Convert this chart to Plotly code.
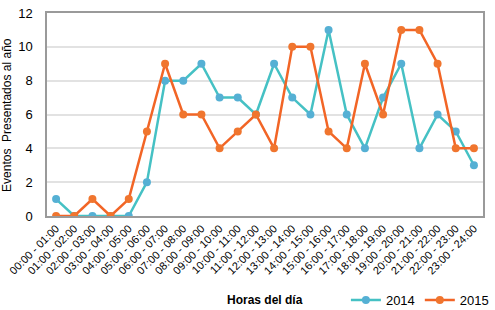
import plotly.graph_objects as go

horas = ["00:00 - 01:00", "01:00 - 02:00", "02:00 - 03:00", "03:00 - 04:00",
         "04:00 - 05:00", "05:00 - 06:00", "06:00 - 07:00", "07:00 - 08:00",
         "08:00 - 09:00", "09:00 - 10:00", "10:00 - 11:00", "11:00 - 12:00",
         "12:00 - 13:00", "13:00 - 14:00", "14:00 - 15:00", "15:00 - 16:00",
         "16:00 - 17:00", "17:00 - 18:00", "18:00 - 19:00", "19:00 - 20:00",
         "20:00 - 21:00", "21:00 - 22:00", "22:00 - 23:00", "23:00 - 24:00"]
serie_2014 = [1, 0, 0, 0, 0, 2, 8, 8, 9, 7, 7, 6, 9, 7, 6, 11, 6, 4, 7, 9, 4, 6, 5, 3]
serie_2015 = [0, 0, 1, 0, 1, 5, 9, 6, 6, 4, 5, 6, 4, 10, 10, 5, 4, 9, 6, 11, 11, 9, 4, 4]

fig = go.Figure()
fig.add_trace(go.Scatter(x=horas, y=serie_2014, name="2014", mode="lines+markers",
                         line=dict(color="#45C1C4", width=2.5),
                         marker=dict(color="#55B0D4", size=8)))
fig.add_trace(go.Scatter(x=horas, y=serie_2015, name="2015", mode="lines+markers",
                         line=dict(color="#F26526", width=2.5),
                         marker=dict(color="#F0752E", size=8)))

font = "Liberation Sans, Arial, sans-serif"
fig.update_layout(
    width=495, height=310,
    margin=dict(l=47, r=12, t=13, b=94, autoexpand=False),
    paper_bgcolor="white", plot_bgcolor="white",
    font=dict(family=font, size=12, color="#000000"),
    showlegend=True,
    legend=dict(orientation="h", x=1.025, xanchor="right", y=-0.414, yanchor="middle",
                font=dict(size=13), itemwidth=30, tracegroupgap=0),
    xaxis=dict(type="category", range=[-0.5, 23.5], tickangle=-45,
               tickfont=dict(size=11), showgrid=False, showline=True,
               linecolor="#9a9a9a", linewidth=1.5, mirror=True, ticks="",
               automargin=False, fixedrange=True),
    yaxis=dict(range=[0, 12], dtick=2, showgrid=True, gridcolor="#e2e2e2",
               gridwidth=1.5, showline=True, linecolor="#9a9a9a", linewidth=1.5,
               mirror=True, zeroline=False, ticks="", tickfont=dict(size=13),
               automargin=False, ticklabelstandoff=10, fixedrange=True),
    annotations=[
        dict(text="<b>Horas del día</b>", x=0.5, y=-0.414, xref="paper", yref="paper",
             showarrow=False, font=dict(size=12), xanchor="center", yanchor="middle"),
        dict(text="Eventos  Presentados al año", x=-0.093, y=0.5, xref="paper",
             yref="paper", showarrow=False, textangle=-90, font=dict(size=12),
             xanchor="center", yanchor="middle"),
    ],
)

fig.write_html("out.html", config={"displayModeBar": False},
               post_script="document.body.style.margin='0';document.body.style.overflow='hidden';")
